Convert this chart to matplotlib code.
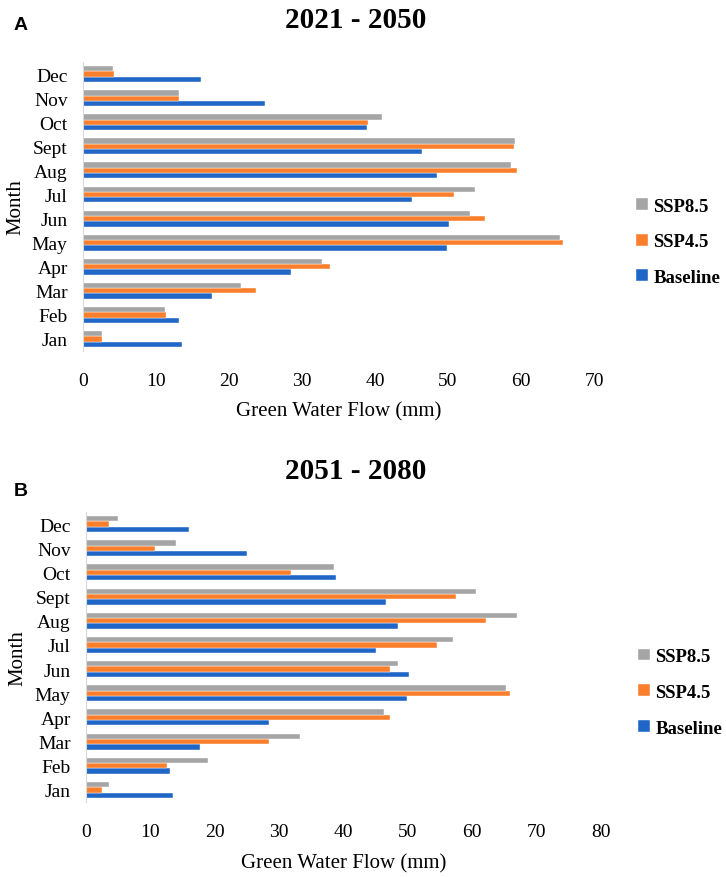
import matplotlib.pyplot as plt
import numpy as np

months = ["Jan", "Feb", "Mar", "Apr", "May", "Jun", "Jul", "Aug", "Sept", "Oct", "Nov", "Dec"]

# 2021 - 2050
base_a = [13.5, 13.1, 17.7, 28.5, 49.8, 50.1, 45.1, 48.5, 46.5, 38.9, 25.0, 16.1]
ssp45_a = [2.6, 11.4, 23.7, 33.9, 65.7, 55.0, 50.8, 59.5, 59.0, 39.0, 13.2, 4.3]
ssp85_a = [2.6, 11.2, 21.7, 32.7, 65.4, 53.0, 53.7, 58.6, 59.2, 40.9, 13.2, 4.1]

# 2051 - 2080
base_b = [13.5, 13.1, 17.7, 28.5, 49.9, 50.1, 45.0, 48.5, 46.6, 38.9, 25.0, 16.0]
ssp45_b = [2.5, 12.6, 28.5, 47.2, 65.9, 47.3, 54.5, 62.2, 57.4, 31.8, 10.7, 3.6]
ssp85_b = [3.5, 18.9, 33.2, 46.3, 65.3, 48.4, 57.0, 66.9, 60.6, 38.5, 13.9, 4.9]

c_base = "#1F66C6"
c_45 = "#F97F2C"
c_85 = "#A5A5A5"

plt.rcParams['font.family'] = ['Liberation Serif', 'DejaVu Serif']

fig = plt.figure(figsize=(7.26, 8.78), dpi=100)
ax1 = fig.add_axes([0.1143, 0.5991, 0.7039, 0.3291])
ax2 = fig.add_axes([0.1185, 0.0854, 0.7093, 0.3303])


def draw(ax, base, s45, s85, xmax, leg_x, title_y, title, letter, letter_y):
    y = np.arange(len(months))
    h = 0.22
    ax.barh(y - h, base, height=h, color=c_base, edgecolor='white', linewidth=0.3, label="Baseline")
    ax.barh(y, s45, height=h, color=c_45, edgecolor='white', linewidth=0.3, label="SSP4.5")
    ax.barh(y + h, s85, height=h, color=c_85, edgecolor='white', linewidth=0.3, label="SSP8.5")
    ax.set_yticks(y)
    ax.set_yticklabels(months)
    ax.set_ylim(-0.5, len(months) - 0.5)
    ax.set_xlim(0, xmax)
    ax.set_xticks(np.arange(0, xmax + 1, 10))
    ax.tick_params(axis='both', length=0, labelsize=14)
    ax.tick_params(axis='x', pad=15)
    ax.tick_params(axis='y', pad=11)
    for s in ["top", "right", "bottom"]:
        ax.spines[s].set_visible(False)
    ax.spines["left"].set_color("#D9D9D9")
    ax.set_xlabel("Green Water Flow (mm)", fontsize=15)
    ax.xaxis.set_label_coords(0.5, -0.175)
    ax.set_ylabel("Month", fontsize=15)
    ax.yaxis.set_label_coords(-0.113, 0.5)
    handles, labels = ax.get_legend_handles_labels()
    ax.legend(handles[::-1], labels[::-1], loc='center left', bbox_to_anchor=(leg_x, 0.378),
              frameon=False, prop={'weight': 'bold', 'size': 13.5},
              handlelength=0.6, handleheight=0.6, handletextpad=0.3, labelspacing=1.0)
    fig.text(0.49, title_y, title, ha='center', va='center', fontsize=21, fontweight='bold')
    fig.text(0.028, letter_y, letter, ha='center', va='center', fontsize=14, fontweight='bold',
             family='Liberation Sans')


draw(ax1, base_a, ssp45_a, ssp85_a, 70, 1.05, 1 - 20 / 878, "2021 - 2050", "A", 1 - 25 / 878)
draw(ax2, base_b, ssp45_b, ssp85_b, 80, 1.04, 1 - 472 / 878, "2051 - 2080", "B", 1 - 492 / 878)

fig.savefig("out.png", dpi=100)
